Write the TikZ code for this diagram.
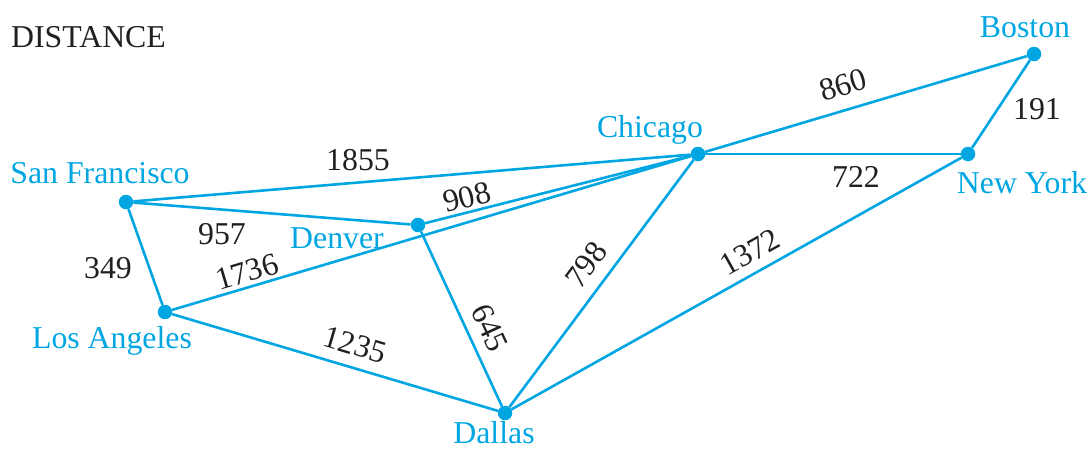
\documentclass[tikz,border=0pt]{standalone}
\usepackage{fontspec}
\setmainfont{Liberation Serif}
\usetikzlibrary{backgrounds}
\definecolor{netblue}{RGB}{0,166,226}
\definecolor{ink}{RGB}{35,31,32}
\begin{document}
\begin{tikzpicture}[x=1pt,y=-1pt,
  city/.style={circle,fill=netblue,inner sep=0pt,minimum size=14.5pt},
  road/.style={draw=netblue,line width=2.6pt},
  dist/.style={text=ink,inner sep=0pt,font=\fontsize{31.8}{36}\selectfont},
  cityname/.style={text=netblue,inner sep=0pt,anchor=base,font=\fontsize{31.8}{36}\selectfont}]
\path[use as bounding box] (0,0) rectangle (1091,448);

% title
\node[dist,anchor=base west] (title) at (11,47) {DISTANCE};

% cities
\node[city] (bos) at (1034,54) {};
\node[city] (ny)  at (968,154) {};
\node[city] (chi) at (698,154) {};
\node[city] (sf)  at (126,202) {};
\node[city] (den) at (418,225) {};
\node[city] (la)  at (165,312) {};
\node[city] (dal) at (505,413) {};

% city names
\node[cityname] (bosname) at (1025,37)  {Boston};
\node[cityname] (nyname)  at (1022,193) {New York};
\node[cityname] (chiname) at (650,137)  {Chicago};
\node[cityname] (sfname)  at (100,183)  {San Francisco};
\node[cityname] (denname) at (337,248)  {Denver};
\node[cityname] (laname)  at (112,348)  {Los Angeles};
\node[cityname] (dalname) at (494,443)  {Dallas};

% roads
\begin{scope}[on background layer]
\draw[road] (sf) -- (chi);
\draw[road] (sf) -- (den);
\draw[road] (sf) -- (la);
\draw[road] (den) -- (chi);
\draw[road] (la) -- (chi);
\draw[road] (la) -- (dal);
\draw[road] (den) -- (dal);
\draw[road] (dal) -- (chi);
\draw[road] (dal) -- (ny);
\draw[road] (chi) -- (ny);
\draw[road] (chi) -- (bos);
\draw[road] (ny) -- (bos);
\end{scope}

% distances
\node[dist] (d1855) at (358,160) {1855};
\node[dist] (d957)  at (222,234) {957};
\node[dist] (d349)  at (108,268) {349};
\node[dist,rotate=14.2] (d908)  at (467,197) {908};
\node[dist,rotate=16.5] (d1736) at (247,272) {1736};
\node[dist,rotate=-16.5] (d1235) at (355,345) {1235};
\node[dist,rotate=-65.2] (d645) at (490,328) {645};
\node[dist,rotate=53.3] (d798) at (586,265) {798};
\node[dist,rotate=29.2] (d1372) at (750,252) {1372};
\node[dist] (d722)  at (856,177) {722};
\node[dist,rotate=16.6] (d860) at (843,85) {860};
\node[dist] (d191)  at (1037,109) {191};
\end{tikzpicture}
\end{document}
